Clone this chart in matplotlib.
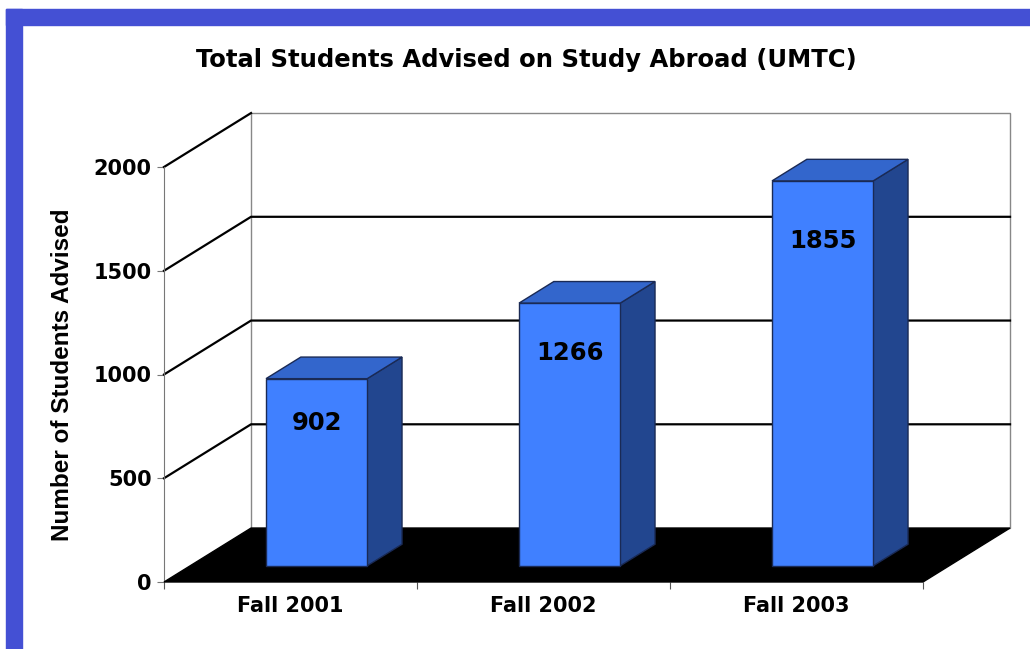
import numpy as np
import matplotlib.pyplot as plt
from matplotlib.patches import Polygon, Rectangle

# data
categories = ['Fall 2001', 'Fall 2002', 'Fall 2003']
students = [902, 1266, 1855]
y_ticks = [0, 500, 1000, 1500, 2000]

# 3d look: depth vector in data units (category units, value units)
DX, DY = 0.344, 260
BAR_W = 0.4
D0, D1 = 0.3, 0.7   # bar sits between these depth fractions

front_c = '#4080ff'
side_c = '#22468f'
top_c = '#3366cc'
edge_c = '#1a2a55'

fig = plt.figure(figsize=(10.3, 6.49), dpi=100)
W, H = 1030, 649

# blue frame top / left
fig.patches.append(Rectangle((6 / W, 0), 16 / W, 640 / H, transform=fig.transFigure,
                             color='#4450d4', zorder=0))
fig.patches.append(Rectangle((6 / W, 624 / H), 1 - 6 / W, 16 / H, transform=fig.transFigure,
                             color='#4450d4', zorder=0))

ax = fig.add_axes([164 / W, 67 / H, 759 / W, 415 / H])
ymax = y_ticks[-1]
ncat = len(categories)
ax.set_xlim(0, ncat)
ax.set_ylim(0, ymax)
ax.patch.set_visible(False)

# back wall
ax.add_patch(Polygon([(DX, DY), (ncat + DX, DY), (ncat + DX, ymax + DY), (DX, ymax + DY)],
                     closed=True, facecolor='white', edgecolor='#888888', lw=1,
                     clip_on=False, zorder=1))
# left wall edge at top
ax.plot([0, DX], [ymax, ymax + DY], color='black', lw=1.6, clip_on=False, zorder=2)

# gridlines (back wall + left wall)
for t in y_ticks[1:-1]:
    ax.plot([0, DX, ncat + DX], [t, t + DY, t + DY], color='black', lw=1.6,
            clip_on=False, zorder=2)

# floor
ax.add_patch(Polygon([(0, 0), (ncat, 0), (ncat + DX, DY), (DX, DY)], closed=True,
                     facecolor='black', edgecolor='black', lw=1, clip_on=False, zorder=3))

# bars
for i, v in enumerate(students):
    x0 = i + 0.5 - BAR_W / 2 + D0 * DX
    x1 = x0 + BAR_W
    y0 = D0 * DY
    y1 = v + D0 * DY
    ddx = (D1 - D0) * DX
    ddy = (D1 - D0) * DY
    ax.add_patch(Polygon([(x1, y0), (x1 + ddx, y0 + ddy), (x1 + ddx, y1 + ddy), (x1, y1)],
                         closed=True, facecolor=side_c, edgecolor=edge_c, lw=1,
                         clip_on=False, zorder=4))
    ax.add_patch(Polygon([(x0, y1), (x1, y1), (x1 + ddx, y1 + ddy), (x0 + ddx, y1 + ddy)],
                         closed=True, facecolor=top_c, edgecolor=edge_c, lw=1,
                         clip_on=False, zorder=4))
    ax.add_patch(Rectangle((x0, y0), BAR_W, v, facecolor=front_c, edgecolor=edge_c,
                           lw=1, clip_on=False, zorder=5))
    ax.text((x0 + x1) / 2, 0.92 * v - 141 + D0 * DY, str(v), ha='center', va='center',
            fontsize=17.5, fontweight='bold', zorder=6)

# axes styling
for s in ['top', 'right', 'bottom']:
    ax.spines[s].set_visible(False)
ax.spines['left'].set_color('#777777')
ax.spines['left'].set_zorder(2)
ax.set_yticks(y_ticks)
ax.set_yticklabels([str(t) for t in y_ticks], fontsize=15, fontweight='bold')
ax.tick_params(axis='y', length=5, color='#777777', pad=4)
ax.set_xticks(range(ncat + 1))
ax.set_xticklabels([])
ax.tick_params(axis='x', which='major', length=5, color='#555555')
ax.set_xticks(np.arange(ncat) + 0.5, minor=True)
ax.set_xticklabels(categories, minor=True, fontsize=15, fontweight='bold')
ax.tick_params(axis='x', which='minor', length=0, pad=10)

fig.text(63 / W, 1 - 375 / H, 'Number of Students Advised', rotation=90,
         ha='center', va='center', fontsize=17.5, fontweight='bold',
         family='Liberation Sans')
fig.text(526 / W, 1 - 60 / H, 'Total Students Advised on Study Abroad (UMTC)',
         ha='center', va='center', fontsize=17.5, fontweight='bold')

fig.savefig('out.png', dpi=100)
